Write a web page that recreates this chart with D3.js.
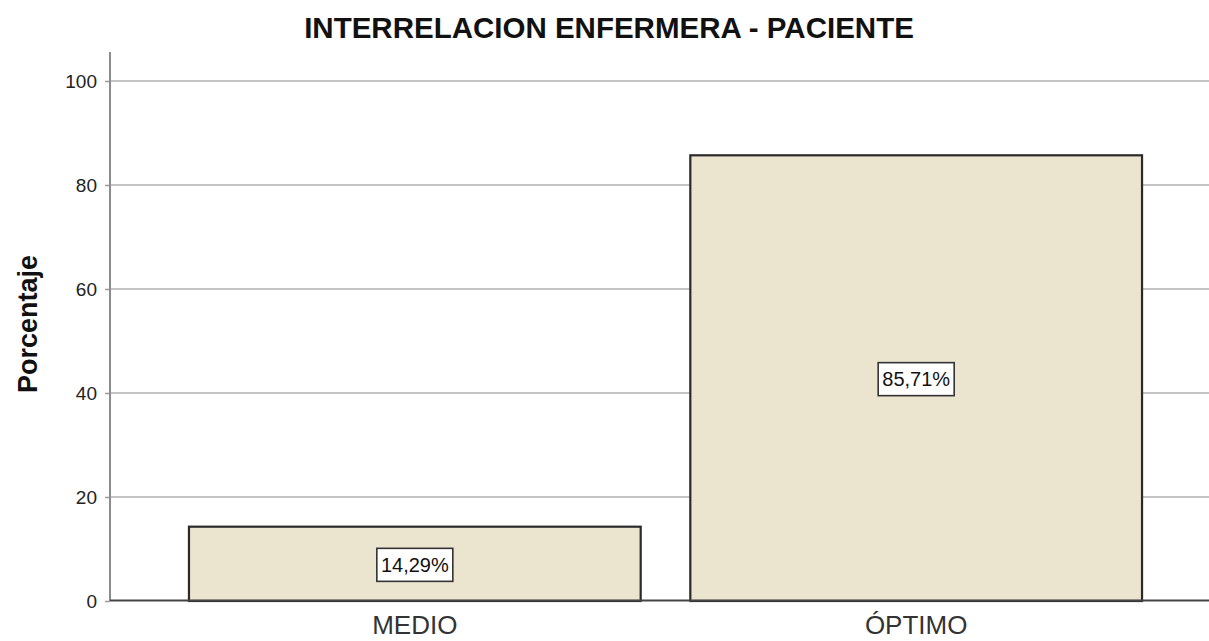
<!DOCTYPE html>
<html>
<head>
<meta charset="utf-8">
<script src="https://cdn.jsdelivr.net/npm/d3@7"></script>
<style>
  body { margin: 0; background: #fff; }
  svg { display: block; font-family: "Liberation Sans", Arial, sans-serif; }
</style>
</head>
<body>
<svg id="chart" width="1209" height="641"></svg>
<script>
// data
const categories = ["MEDIO", "ÓPTIMO"];
const percents = [14.29, 85.71];
const labels = ["14,29%", "85,71%"];
const yTicks = [0, 20, 40, 60, 80, 100];

const width = 1209, height = 641;
const svg = d3.select("#chart");

const x = d3.scaleBand()
  .domain(categories)
  .range([110, 1221])
  .paddingInner(0.099)
  .paddingOuter(0.1575);

const y = d3.scaleLinear()
  .domain([0, 100])
  .range([601, 81]);

// grid lines
svg.append("g")
  .selectAll("line")
  .data(yTicks.filter(d => d > 0))
  .enter().append("line")
    .attr("x1", 110)
    .attr("x2", width)
    .attr("y1", d => y(d))
    .attr("y2", d => y(d))
    .attr("stroke", "#c4c4c4")
    .attr("stroke-width", 2);

// y axis
const yAxis = svg.append("g")
  .attr("transform", "translate(110,0)")
  .call(d3.axisLeft(y).tickValues(yTicks).tickSize(5).tickPadding(8));
yAxis.select(".domain").remove();
yAxis.selectAll(".tick line").attr("stroke", "#999").attr("stroke-width", 1.5);
yAxis.selectAll(".tick text")
  .attr("fill", "#222")
  .style("font-size", "19px")
  .style("font-family", "'Liberation Sans', Arial, sans-serif");

svg.append("line")
  .attr("x1", 110).attr("x2", 110)
  .attr("y1", 52).attr("y2", 601)
  .attr("stroke", "#8c8c8c")
  .attr("stroke-width", 2);

// bars
svg.append("g")
  .selectAll("rect")
  .data(categories)
  .enter().append("rect")
    .attr("x", d => x(d))
    .attr("y", (d, i) => y(percents[i]))
    .attr("width", x.bandwidth())
    .attr("height", (d, i) => y(0) - y(percents[i]))
    .attr("fill", "#ebe4cf")
    .attr("stroke", "#2a2a2a")
    .attr("stroke-width", 2.2);

// baseline
svg.append("line")
  .attr("x1", 110).attr("x2", width)
  .attr("y1", 600.5).attr("y2", 600.5)
  .attr("stroke", "#444")
  .attr("stroke-width", 2);

// value labels
const lab = svg.append("g")
  .selectAll("g")
  .data(categories)
  .enter().append("g")
    .attr("transform", (d, i) =>
      "translate(" + (x(d) + x.bandwidth() / 2) + "," + ((y(percents[i]) + y(0)) / 2 + 1) + ")");
lab.append("rect")
  .attr("x", -38).attr("y", -16.5)
  .attr("width", 76).attr("height", 33)
  .attr("fill", "#fff")
  .attr("stroke", "#333")
  .attr("stroke-width", 1.6);
lab.append("text")
  .attr("text-anchor", "middle")
  .attr("dy", "0.36em")
  .attr("fill", "#111")
  .style("font-size", "20px")
  .text((d, i) => labels[i]);

// category labels
svg.append("g")
  .selectAll("text")
  .data(categories)
  .enter().append("text")
    .attr("x", d => x(d) + x.bandwidth() / 2)
    .attr("y", 634)
    .attr("text-anchor", "middle")
    .attr("fill", "#333")
    .style("font-size", "26px")
    .text(d => d);

// title
svg.append("text")
  .attr("x", 609)
  .attr("y", 38)
  .attr("text-anchor", "middle")
  .attr("fill", "#111")
  .style("font-size", "29.5px")
  .style("font-weight", "bold")
  .text("INTERRELACION ENFERMERA - PACIENTE");

// y label
svg.append("text")
  .attr("transform", "translate(37,324) rotate(-90)")
  .attr("text-anchor", "middle")
  .attr("fill", "#111")
  .style("font-size", "27px")
  .style("font-weight", "bold")
  .text("Porcentaje");
</script>
</body>
</html>
